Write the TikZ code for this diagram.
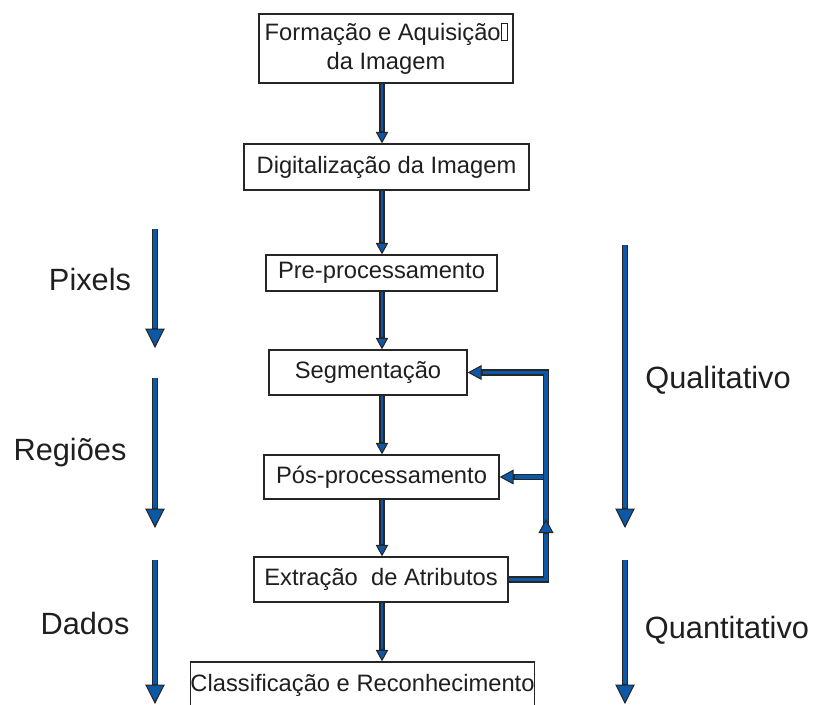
\documentclass[tikz,border=0pt]{standalone}
\usepackage{fontspec}
\setmainfont{Liberation Sans}
\usetikzlibrary{arrows.meta}
\definecolor{flowblue}{RGB}{12,88,168}
\definecolor{edgegray}{RGB}{38,38,38}

\begin{document}
\begin{tikzpicture}[x=0.02cm,y=-0.02cm,
 st/.style={draw=edgegray,line width=.75pt,fill=white,inner sep=0pt,align=center,
  text=black!88,font=\fontsize{13.5}{16.5}\selectfont},
 lb/.style={text=black!88,font=\fontsize{17.5}{20}\selectfont},
 fl/.style={draw=edgegray,line width=2.9pt,
  -{Triangle[width=7pt,length=6.5pt,line width=.6pt,fill=flowblue]},
  postaction={draw=flowblue,line width=1.4pt,-,shorten >=7pt}},
 fb/.style={draw=edgegray,line width=3.5pt,
  -{Triangle[width=8.5pt,length=8pt,line width=.6pt,fill=flowblue]},
  postaction={draw=flowblue,line width=1.9pt,-,shorten >=8.5pt}},
 sd/.style={draw=edgegray,line width=3.7pt,
  -{Triangle[width=11pt,length=11pt,line width=.6pt,fill=flowblue]},
  postaction={draw=flowblue,line width=1.9pt,-,shorten >=11.5pt}},
 ]
 \useasboundingbox (0,0) rectangle (815,704);

 \node[st,minimum width=254*0.02cm,minimum height=69*0.02cm] (form) at (386,48.5)
  {Formação e Aquisição{\setlength{\fboxsep}{0pt}\setlength{\fboxrule}{.4pt}\fbox{\rule{0pt}{.72em}\hspace{.22em}}}\\da Imagem};
 \node[st,minimum width=285*0.02cm,minimum height=46*0.02cm] (digit) at (386.5,167) {Digitalização da Imagem};
 \node[st,minimum width=231*0.02cm,minimum height=36*0.02cm] (pre) at (381.5,273) {Pre-processamento};
 \node[st,minimum width=198*0.02cm,minimum height=45*0.02cm] (seg) at (368,372.5) {Segmentação};
 \node[st,minimum width=235*0.02cm,minimum height=44*0.02cm] (pos) at (381.5,477) {Pós-processamento};
 \node[st,minimum width=254*0.02cm,minimum height=45*0.02cm] (ext) at (381,579.5) {Extração\ \ de Atributos};
 \node[st,minimum width=311*0.02cm,minimum height=46*0.02cm] (cls) at (362.5,685) {Classificação e Reconhecimento};

 %fluxo principal
 \coordinate (ax) at (382,0);
 \draw[fl] (form.south -| ax) -- (digit.north -| ax);
 \draw[fl] (digit.south -| ax) -- (pre.north -| ax);
 \draw[fl] (pre.south -| ax) -- (seg.north -| ax);
 \draw[fl] (seg.south -| ax) -- (pos.north -| ax);
 \draw[fl] (pos.south -| ax) -- (ext.north -| ax);
 \draw[fl] (ext.south -| ax) -- (cls.north -| ax);

 %realimentacao
 \coordinate (fbx) at (546,0);
 \coordinate (fbj) at (543,0);
 \draw[fb] (ext.east) -- (ext.east -| fbx) -- (seg.east -| fbx) -- (seg.east);
 \draw[fb] (pos.east -| fbj) -- (pos.east);
 \coordinate (upA) at (546,548);
 \coordinate (upB) at (546,519);
 \draw[fb] (upA) -- (upB);

 %niveis
 \coordinate (p1) at (155,229); \coordinate (p2) at (155,348);
 \coordinate (r1) at (155,378); \coordinate (r2) at (155,528);
 \coordinate (d1) at (155,560); \coordinate (d2) at (155,704);
 \coordinate (q1) at (625,245); \coordinate (q2) at (625,528);
 \coordinate (n1) at (625,560); \coordinate (n2) at (625,704);
 \draw[sd] (p1) -- (p2);
 \draw[sd] (r1) -- (r2);
 \draw[sd] (d1) -- (d2);
 \draw[sd] (q1) -- (q2);
 \draw[sd] (n1) -- (n2);

 \node[lb] (lpix) at (90,280) {Pixels};
 \node[lb] (lreg) at (70,453) {Regiões};
 \node[lb] (ldad) at (85,623) {Dados};
 \node[lb] (lqual) at (718,380) {Qualitativo};
 \node[lb] (lquan) at (727,630) {Quantitativo};
\end{tikzpicture}
\end{document}
